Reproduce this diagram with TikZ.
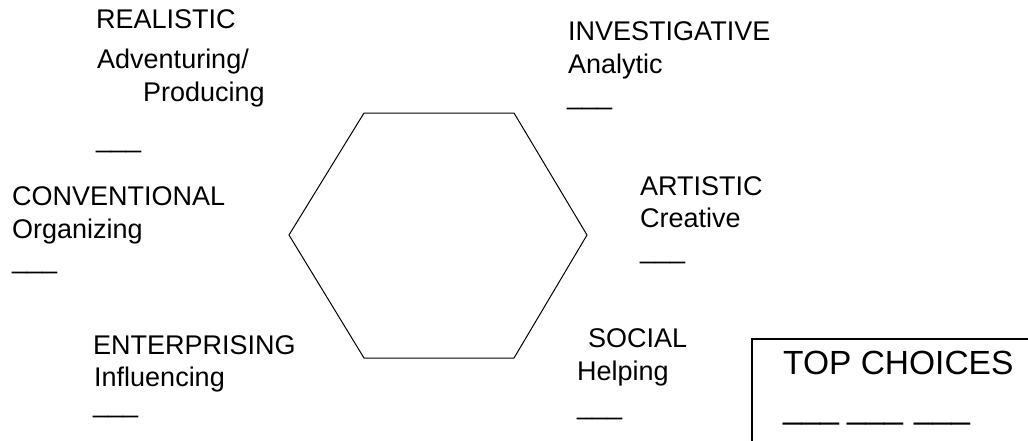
\documentclass[tikz,border=0pt]{standalone}
\usepackage{fontspec}
\setmainfont{Liberation Sans}
\begin{document}
\begin{tikzpicture}[x=1pt,y=-1pt,
  lab/.style={anchor=base west,inner sep=0pt,font=\fontsize{27}{30}\selectfont},
  big/.style={anchor=base west,inner sep=0pt,font=\fontsize{33.5}{36}\selectfont},
  hex/.style={draw=black,line width=1pt,line join=miter}]
\useasboundingbox (0,0) rectangle (1028,440);
% hexagon
\coordinate (h1) at (364,113);
\coordinate (h2) at (514,113);
\coordinate (h3) at (587,235);
\coordinate (h4) at (514,358);
\coordinate (h5) at (364,358);
\coordinate (h6) at (289,235);
\draw[hex] (h1) -- (h2) -- (h3) -- (h4) -- (h5) -- (h6) -- cycle;
% REALISTIC
\node[lab] (r1) at (96,28) {REALISTIC};
\node[lab] (r2) at (97,68) {Adventuring/};
\node[lab] (r3) at (143,101) {Producing};
\node[lab] (r4) at (96,147) {\_\_\_};
% INVESTIGATIVE
\node[lab] (i1) at (568,40) {INVESTIGATIVE};
\node[lab] (i2) at (568,73) {Analytic};
\node[lab] (i3) at (567,104) {\_\_\_};
% ARTISTIC
\node[lab] (a1) at (640,195) {ARTISTIC};
\node[lab] (a2) at (640,227) {Creative};
\node[lab] (a3) at (640,258) {\_\_\_};
% CONVENTIONAL
\node[lab] (c1) at (12,205) {CONVENTIONAL};
\node[lab] (c2) at (12,238) {Organizing};
\node[lab] (c3) at (12,268) {\_\_\_};
% ENTERPRISING
\node[lab] (e1) at (93,354) {ENTERPRISING};
\node[lab] (e2) at (94,386) {Influencing};
\node[lab] (e3) at (93,412) {\_\_\_};
% SOCIAL
\node[lab] (s1) at (588,347) {SOCIAL};
\node[lab] (s2) at (577,380) {Helping};
\node[lab] (s3) at (577,414) {\_\_\_};
% TOP CHOICES box
\begin{scope}
\clip (0,0) rectangle (1028,440);
\draw[line width=1.5pt] (752,460) -- (752,339) -- (1040,339);
\end{scope}
\node[big] (t1) at (783,374) {TOP CHOICES};
\node[big] (t2) at (783,418) {\_\_\_};
\node[big] (t3) at (847,418) {\_\_\_};
\node[big] (t4) at (914,418) {\_\_\_};
\end{tikzpicture}
\end{document}
